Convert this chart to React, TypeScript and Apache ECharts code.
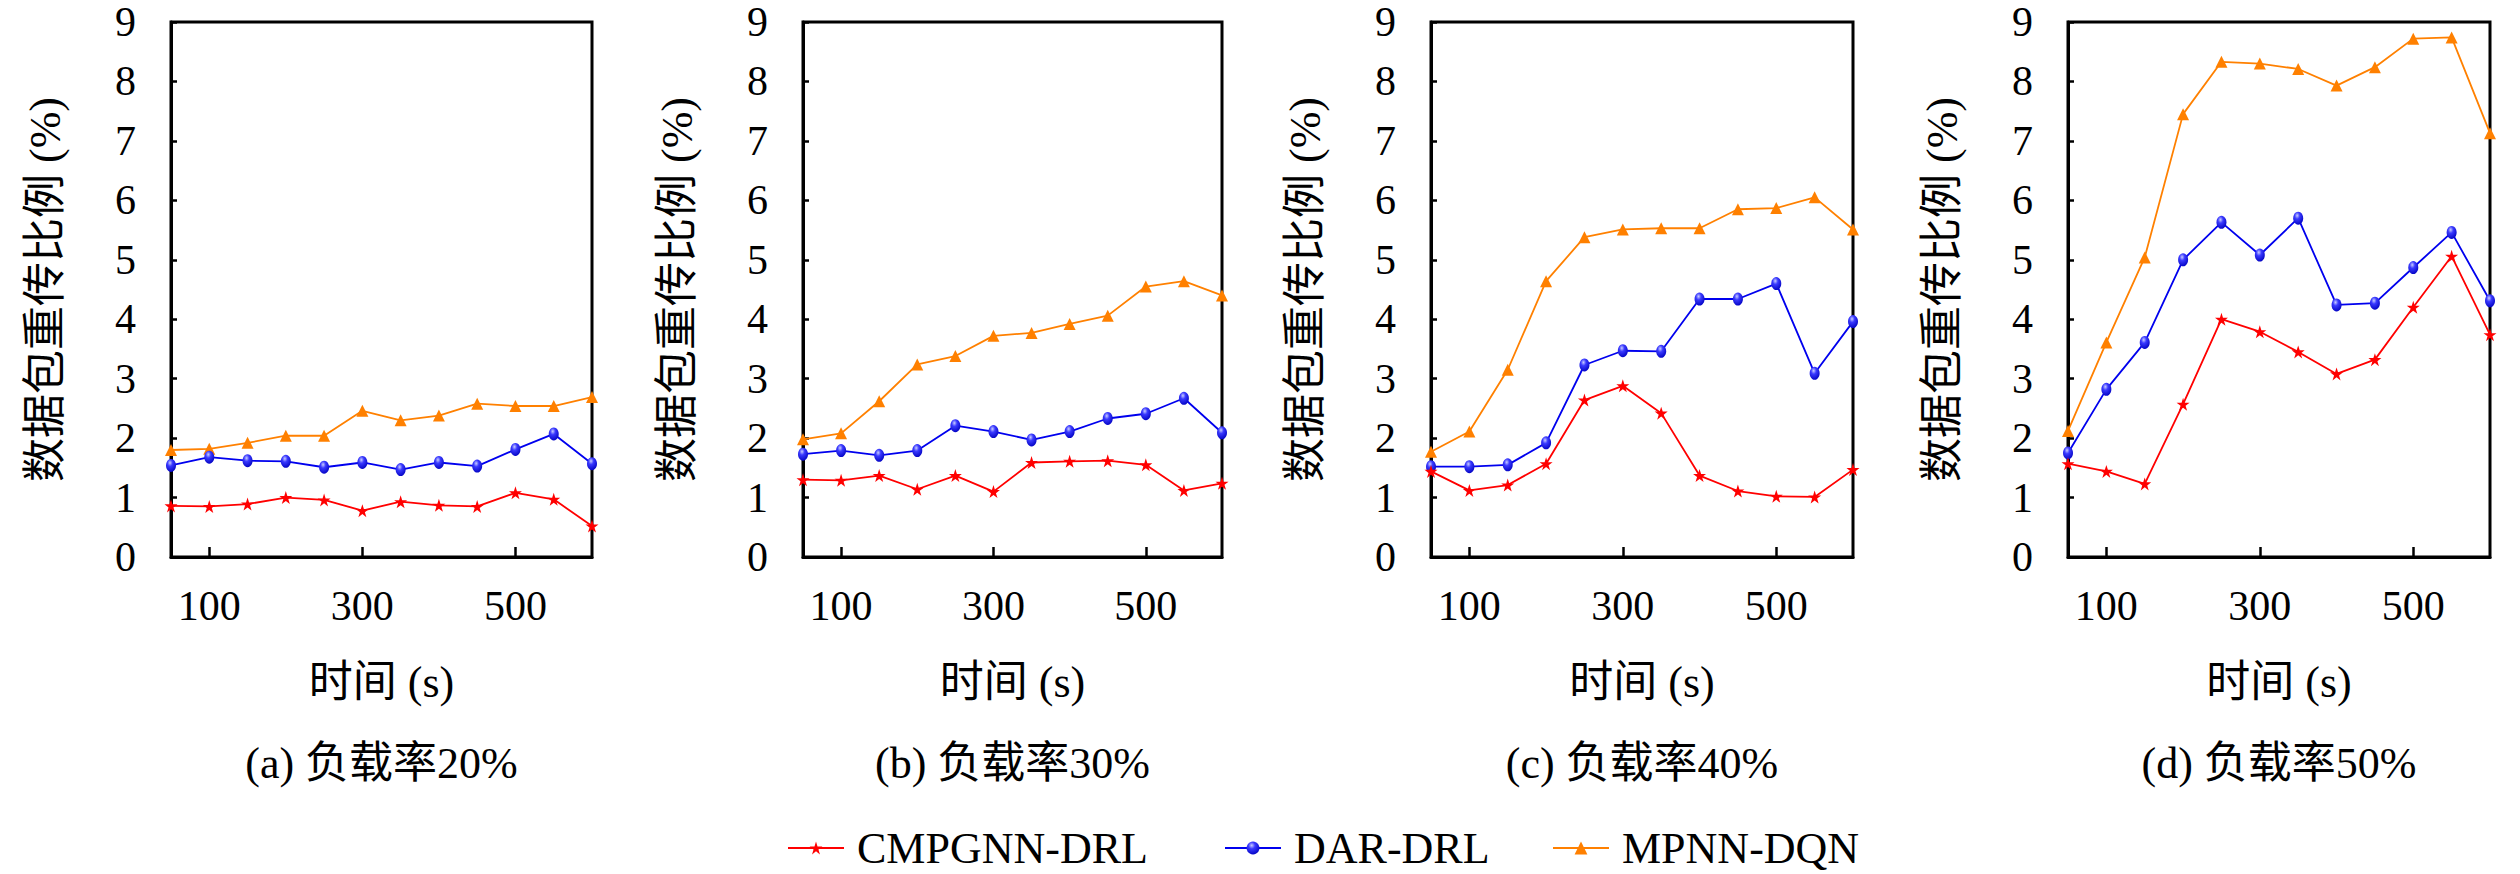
import React, { useEffect, useRef } from "react";
import * as echarts from "echarts";

// ---------- data ----------
const times = [50, 100, 150, 200, 250, 300, 350, 400, 450, 500, 550, 600];
const xTickValues = [100, 300, 500];
const seriesNames = ["CMPGNN-DRL", "DAR-DRL", "MPNN-DQN"];
const panelTitles = ["(a) 负载率20%", "(b) 负载率30%", "(c) 负载率40%", "(d) 负载率50%"];
const xAxisName = "时间 (s)";
const yAxisName = "数据包重传比例 (%)";

const cmpgnnA = [0.86, 0.85, 0.89, 1.0, 0.96, 0.78, 0.93, 0.87, 0.85, 1.08, 0.97, 0.52];
const darA = [1.54, 1.68, 1.62, 1.61, 1.51, 1.59, 1.47, 1.59, 1.53, 1.81, 2.07, 1.57];
const mpnnA = [1.8, 1.82, 1.92, 2.04, 2.04, 2.46, 2.3, 2.38, 2.58, 2.54, 2.54, 2.69];

const cmpgnnB = [1.3, 1.29, 1.37, 1.14, 1.37, 1.1, 1.59, 1.61, 1.62, 1.55, 1.12, 1.24];
const darB = [1.73, 1.79, 1.71, 1.79, 2.21, 2.11, 1.97, 2.11, 2.33, 2.41, 2.67, 2.09];
const mpnnB = [1.98, 2.08, 2.62, 3.24, 3.38, 3.72, 3.77, 3.92, 4.06, 4.55, 4.64, 4.4];

const cmpgnnC = [1.44, 1.12, 1.21, 1.57, 2.64, 2.88, 2.42, 1.37, 1.11, 1.02, 1.01, 1.47];
const darC = [1.52, 1.52, 1.55, 1.92, 3.23, 3.47, 3.46, 4.34, 4.34, 4.6, 3.09, 3.96];
const mpnnC = [1.77, 2.11, 3.15, 4.64, 5.38, 5.51, 5.53, 5.53, 5.85, 5.87, 6.05, 5.51];

const cmpgnnD = [1.57, 1.44, 1.23, 2.57, 4.0, 3.79, 3.45, 3.08, 3.32, 4.2, 5.06, 3.74];
const darD = [1.75, 2.82, 3.61, 5.0, 5.63, 5.08, 5.7, 4.24, 4.27, 4.87, 5.46, 4.31];
const mpnnD = [2.12, 3.61, 5.04, 7.45, 8.33, 8.3, 8.21, 7.93, 8.24, 8.72, 8.74, 7.13];

const panelValues = [
  [cmpgnnA, darA, mpnnA],
  [cmpgnnB, darB, mpnnB],
  [cmpgnnC, darC, mpnnC],
  [cmpgnnD, darD, mpnnD],
];

// ---------- layout / style ----------
const FONT = "'Liberation Serif', 'Noto Sans CJK SC', serif";
const gridLefts = [171, 803, 1431, 2068];
const gridWidths = [421, 419, 422, 422];
const gridTop = 22;
const gridHeight = 535;
const legendLefts = [787, 1224, 1552];

const STAR =
  "path://M50,0 L61.2,34.5 L97.6,34.5 L68.2,55.9 L79.4,90.5 L50,69.1 L20.6,90.5 L31.8,55.9 L2.4,34.5 L38.8,34.5 Z";

const blueGradient = new echarts.graphic.RadialGradient(0.4, 0.3, 0.75, [
  { offset: 0, color: "#c8ccff" },
  { offset: 0.35, color: "#3a3aff" },
  { offset: 1, color: "#0000c0" },
]);

const seriesStyles = [
  { line: "#ff0000", fill: "#ff0000", symbol: STAR, size: 13 as any },
  { line: "#0000ee", fill: blueGradient as any, symbol: "circle", size: [10, 13] as any },
  { line: "#ff8000", fill: "#ff8000", symbol: "triangle", size: [12, 12] as any },
];

function buildOption() {
  const grid: any[] = [];
  const xAxis: any[] = [];
  const yAxis: any[] = [];
  const series: any[] = [];
  const graphic: any[] = [];

  panelValues.forEach((vals, i) => {
    grid.push({
      left: gridLefts[i],
      top: gridTop,
      width: gridWidths[i],
      height: gridHeight,
      show: true,
      borderColor: "#000",
      borderWidth: 3,
      backgroundColor: "transparent",
    });
    xAxis.push({
      type: "value",
      gridIndex: i,
      min: 50,
      max: 600,
      name: xAxisName,
      nameLocation: "middle",
      nameGap: 103,
      nameTextStyle: { fontSize: 44, color: "#000", fontFamily: FONT },
      axisLine: { show: true, lineStyle: { color: "#000", width: 3 } },
      axisTick: {
        show: true,
        inside: true,
        length: 10,
        customValues: xTickValues,
        lineStyle: { color: "#000", width: 2.5 },
      },
      axisLabel: {
        customValues: xTickValues,
        margin: 28,
        fontSize: 42,
        color: "#000",
        fontFamily: FONT,
      },
      splitLine: { show: false },
    });
    yAxis.push({
      type: "value",
      gridIndex: i,
      min: 0,
      max: 9,
      interval: 1,
      name: yAxisName,
      nameLocation: "middle",
      nameGap: 104,
      nameTextStyle: { fontSize: 44, color: "#000", fontFamily: FONT },
      axisLine: { show: true, lineStyle: { color: "#000", width: 3 } },
      axisTick: { show: true, inside: true, length: 6, lineStyle: { color: "#000", width: 2.5 } },
      axisLabel: { margin: 35, fontSize: 42, color: "#000", fontFamily: FONT },
      splitLine: { show: false },
    });
    vals.forEach((arr, k) => {
      const st = seriesStyles[k];
      series.push({
        type: "line",
        name: seriesNames[k],
        xAxisIndex: i,
        yAxisIndex: i,
        data: times.map((t, j) => [t, arr[j]]),
        symbol: st.symbol,
        symbolSize: st.size,
        showAllSymbol: true,
        clip: false,
        lineStyle: { color: st.line, width: 1.8 },
        itemStyle: { color: st.fill, borderWidth: 0 },
        z: 3 - k + 2,
      });
    });
    graphic.push({
      type: "text",
      x: gridLefts[i] + gridWidths[i] / 2,
      y: 763,
      style: {
        text: panelTitles[i],
        fontSize: 44,
        fontFamily: FONT,
        fill: "#000",
        textAlign: "center",
        textVerticalAlign: "middle",
      },
    });
  });

  const legend = seriesNames.map((name, k) => ({
    data: [name],
    left: legendLefts[k],
    top: 824,
    itemWidth: 56,
    itemHeight: 16,
    padding: 0,
    textStyle: {
      fontSize: 44,
      lineHeight: 48,
      fontFamily: FONT,
      color: "#000",
      padding: [0, 0, 0, 8],
    },
  }));

  return {
    animation: false,
    backgroundColor: "#fff",
    grid,
    xAxis,
    yAxis,
    series,
    legend,
    graphic,
  };
}

export default function App() {
  const ref = useRef<HTMLDivElement>(null);
  useEffect(() => {
    if (!ref.current) return;
    const chart = echarts.init(ref.current, null, { renderer: "svg" });
    chart.setOption(buildOption() as any);
    return () => chart.dispose();
  }, []);
  return (
    <div
      ref={ref}
      style={{ position: "fixed", left: 0, top: 0, width: 2520, height: 874, background: "#fff" }}
    />
  );
}
